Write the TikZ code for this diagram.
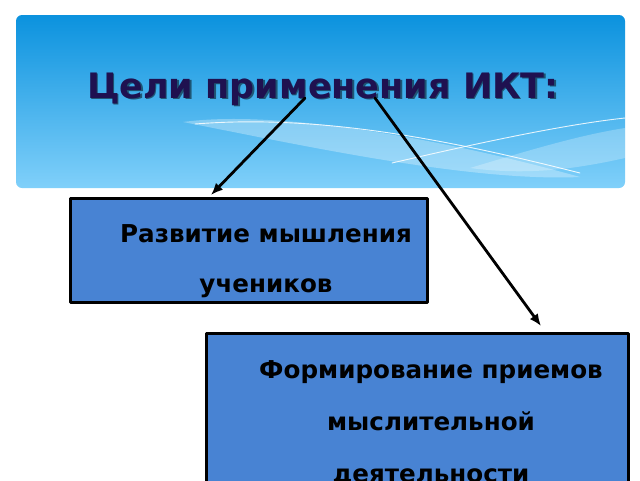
\documentclass[tikz,border=0pt]{standalone}
\usepackage{fontspec}
\setmainfont{DejaVu Sans}
\usetikzlibrary{arrows.meta}
\definecolor{bannertop}{HTML}{0B92DE}
\definecolor{bannerbot}{HTML}{80D0FA}
\definecolor{titlecol}{HTML}{1F1150}
\definecolor{boxblue}{HTML}{4883D3}
\tikzset{goalbox/.style={draw=black,line width=3pt,fill=boxblue,inner sep=0pt,anchor=north west},
	goaltext/.style={align=center,anchor=base,font=\bfseries\fontsize{24.6}{50}\selectfont},
	titletext/.style={anchor=base,font=\bfseries\fontsize{35}{40}\selectfont},
	arr/.style={line width=2.8pt,-{Latex[length=12pt,width=10pt]}}}
\begin{document}
\begin{tikzpicture}[x=1pt,y=-1pt,line join=round,line cap=round]
	\useasboundingbox (0,0) rectangle (640,480);
	\clip (0,0) rectangle (640,480);
	\shade[top color=bannertop,bottom color=bannerbot,rounded corners=6pt] (16,15) rectangle (625,188);
	%song
	\fill[white,opacity=.3] (183,122) .. controls (270,110) and (430,135) .. (580,177)
		.. controls (470,182) and (300,145) .. (183,122);
	\fill[white,opacity=.25] (470,168) .. controls (530,150) and (580,135) .. (625,128)
		-- (625,158) .. controls (580,168) and (530,176) .. (470,168);
	\draw[white,opacity=.85,line width=.9pt] (195,124) .. controls (320,114) and (450,140) .. (580,173);
	\draw[white,opacity=.85,line width=.9pt] (392,163) .. controls (470,145) and (560,125) .. (625,118);
	%tieu de
	\node[titletext,text=black,opacity=.5] at (324.5,99.5) {Цели применения ИКТ:};
	\node (title)[titletext,text=titlecol] at (323,98) {Цели применения ИКТ:};
	\node (box1)[goalbox,minimum width=357pt,minimum height=104pt] at (68.5,196.5) {};
	\node (box2)[goalbox,minimum width=422pt,minimum height=180pt] at (204.5,331.5) {};
	\node (t1)[goaltext] at (266,292) {Развитие мышления\\учеников};
	\node (t2)[goaltext,font=\bfseries\fontsize{24.6}{52}\selectfont] at (431,482) {Формирование приемов\\мыслительной\\деятельности};
	\coordinate (s1) at (305,98);
	\coordinate (e1) at (211,195);
	\coordinate (s2) at (375,98);
	\coordinate (e2) at (541,326);
	\draw[arr] (s1)--(e1);
	\draw[arr] (s2)--(e2);
\end{tikzpicture}
\end{document}
